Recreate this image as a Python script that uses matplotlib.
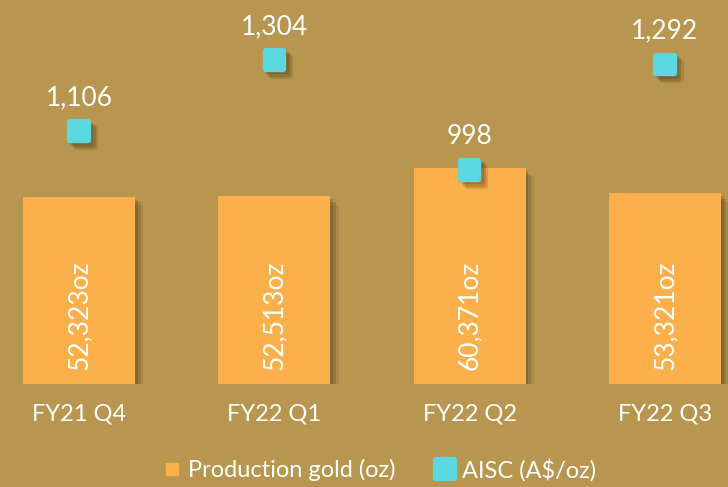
import matplotlib.pyplot as plt
import matplotlib.patheffects as pe
from matplotlib.markers import MarkerStyle
from matplotlib.lines import Line2D

quarters = ['FY21 Q4', 'FY22 Q1', 'FY22 Q2', 'FY22 Q3']
production = [52323, 52513, 60371, 53321]
aisc = [1106, 1304, 998, 1292]

bg = '#B8964F'
bar_color = '#FBB04B'
cyan = '#5CD8E0'

plt.rcParams['font.family'] = ['Lato', 'DejaVu Sans']


def soft_patch_shadow():
    # stack a few faint offsets to fake a blurred drop shadow
    return [pe.SimplePatchShadow(offset=(d, -d), shadow_rgbFace='#3a2c10', alpha=a)
            for d, a in [(6, 0.12), (4, 0.18), (2, 0.2)]] + [pe.Normal()]


def soft_line_shadow():
    return [pe.SimpleLineShadow(offset=(d, -d), shadow_color='#3a2c10', alpha=a)
            for d, a in [(5, 0.15), (3.5, 0.2), (2, 0.2)]] + [pe.Normal()]


fig = plt.figure(figsize=(7.28, 4.87), dpi=100, facecolor=bg)
ax = fig.add_axes([0, 1 - 384 / 487, 1, 384 / 487])
ax.set_facecolor(bg)
x = list(range(len(quarters)))

bars = ax.bar(x, production, width=0.573, color=bar_color, zorder=2)
for b in bars:
    b.set_path_effects(soft_patch_shadow())

for xi, v in zip(x, production):
    ax.annotate(f'{v:,}oz', (xi, 0), xytext=(0, 10), textcoords='offset points',
                rotation=90, ha='center', va='bottom', color='white', fontsize=19, zorder=3)

ax.set_xlim(-79 / 195.3, (728 - 79) / 195.3)
ax.set_ylim(0, 384 / 0.003576)
ax.set_xticks(x)
ax.set_xticklabels(quarters, color='white', fontsize=17)
ax.tick_params(axis='x', length=0, pad=14)
ax.set_yticks([])
for s in ax.spines.values():
    s.set_visible(False)

ax2 = ax.twinx()
ax2.set_ylim(998 - (384 - 170) / 0.3595, 998 + 170 / 0.3595)
ax2.set_yticks([])
for s in ax2.spines.values():
    s.set_visible(False)

sq = MarkerStyle('s', joinstyle='round')
ax2.plot(x, aisc, linestyle='none', marker=sq, markersize=12.5, markeredgewidth=4.5,
         color=cyan, markeredgecolor=cyan, zorder=4, path_effects=soft_line_shadow())
for xi, v in zip(x, aisc):
    ax2.annotate(f'{v:,}', (xi, v), xytext=(0, 15), textcoords='offset points',
                 ha='center', va='bottom', color='white', fontsize=19)

handles = [Line2D([], [], linestyle='none', marker='s', markersize=8.5, color=bar_color),
           Line2D([], [], linestyle='none', marker=sq, markersize=12.5, markeredgewidth=4.5,
                  color=cyan, markeredgecolor=cyan)]
leg = fig.legend(handles, ['Production gold (oz)', 'AISC (A$/oz)'], loc='center',
                 bbox_to_anchor=(378 / 728, 1 - 470 / 487), ncol=2, frameon=False,
                 fontsize=17, handletextpad=0.2, columnspacing=1.6, handlelength=1.0)
for t in leg.get_texts():
    t.set_color('white')

fig.savefig('out.png', dpi=100, facecolor=bg)
